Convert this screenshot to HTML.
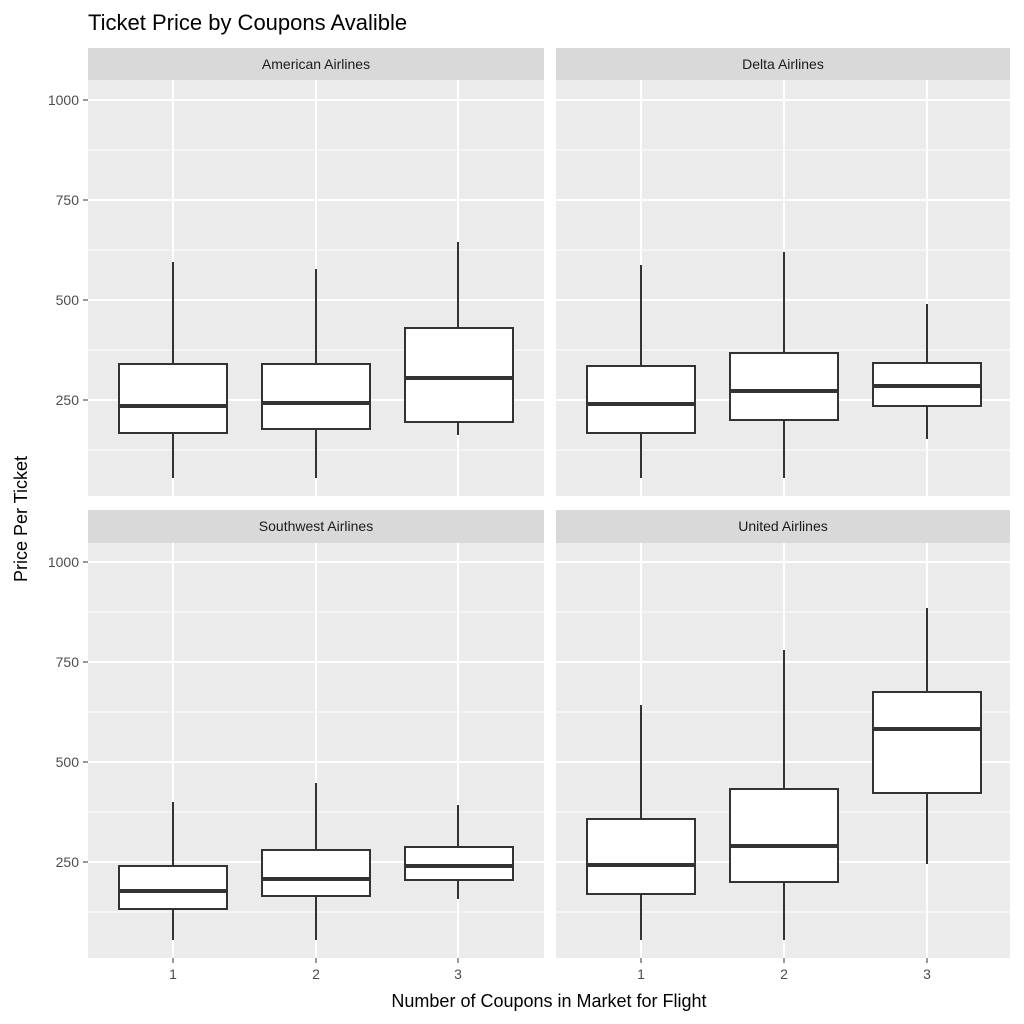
<!DOCTYPE html>
<html><head><meta charset="utf-8"><style>body{margin:0;background:#fff}svg{display:block}</style></head><body>
<svg width="1024" height="1024" xmlns="http://www.w3.org/2000/svg" font-family="Liberation Sans, sans-serif">
<rect width="1024" height="1024" fill="#fff"/>
<text x="88" y="30" font-size="22" fill="#000">Ticket Price by Coupons Avalible</text>
<rect x="88" y="48" width="456" height="32" fill="#d9d9d9"/>
<rect x="556" y="48" width="454" height="32" fill="#d9d9d9"/>
<rect x="88" y="510" width="456" height="33" fill="#d9d9d9"/>
<rect x="556" y="510" width="454" height="33" fill="#d9d9d9"/>
<g font-size="14" fill="#1a1a1a" text-anchor="middle">
<text x="316" y="69">American Airlines</text>
<text x="783" y="69">Delta Airlines</text>
<text x="316" y="531">Southwest Airlines</text>
<text x="783" y="531">United Airlines</text>
</g>
<rect x="88" y="80" width="456" height="416" fill="#ebebeb"/>
<rect x="556" y="80" width="454" height="416" fill="#ebebeb"/>
<rect x="88" y="543" width="456" height="415" fill="#ebebeb"/>
<rect x="556" y="543" width="454" height="415" fill="#ebebeb"/>
<g stroke="#fff" stroke-width="1">
<path d="M88 150H544M88 250H544M88 350H544M88 450H544M556 150H1010M556 250H1010M556 350H1010M556 450H1010"/>
<path d="M88 612H544M88 712H544M88 812H544M88 912H544M556 612H1010M556 712H1010M556 812H1010M556 912H1010"/>
</g>
<g stroke="#fff" stroke-width="2">
<path d="M88 100H544M88 200H544M88 300H544M88 400H544M556 100H1010M556 200H1010M556 300H1010M556 400H1010"/>
<path d="M88 562H544M88 662H544M88 762H544M88 862H544M556 562H1010M556 662H1010M556 762H1010M556 862H1010"/>
<path d="M173 80V496M316 80V496M458 80V496M641 80V496M784 80V496M927 80V496"/>
<path d="M173 543V958M316 543V958M458 543V958M641 543V958M784 543V958M927 543V958"/>
</g>
<g stroke="#333" stroke-width="2" fill="#fff">
<path d="M173 262V478M316 269V478M458 242V435M641 265V478M784 252V478M927 304V439"/>
<path d="M173 802V940M316 783V940M458 805V899M641 705V940M784 650V940M927 608V864"/>
<rect x="119" y="364" width="108" height="69"/>
<rect x="262" y="364" width="108" height="65"/>
<rect x="405" y="328" width="108" height="94"/>
<rect x="587" y="366" width="108" height="67"/>
<rect x="730" y="353" width="108" height="67"/>
<rect x="873" y="363" width="108" height="43"/>
<rect x="119" y="866" width="108" height="43"/>
<rect x="262" y="850" width="108" height="46"/>
<rect x="405" y="847" width="108" height="33"/>
<rect x="587" y="819" width="108" height="75"/>
<rect x="730" y="789" width="108" height="93"/>
<rect x="873" y="692" width="108" height="101"/>
</g>
<g stroke="#333" stroke-width="4">
<path d="M119 406H227M262 403H370M405 378H513M587 404H695M730 391H838M873 386H981"/>
<path d="M119 891H227M262 879H370M405 866H513M587 865H695M730 846H838M873 729H981"/>
</g>
<g stroke="#333" stroke-width="1">
<path d="M83 100H88M83 200H88M83 300H88M83 400H88M83 562H88M83 662H88M83 762H88M83 862H88"/>
<path d="M173 958V963M316 958V963M458 958V963M641 958V963M784 958V963M927 958V963"/>
</g>
<g font-size="14" fill="#4d4d4d" text-anchor="end">
<text x="79" y="105">1000</text><text x="79" y="205">750</text><text x="79" y="305">500</text><text x="79" y="405">250</text>
<text x="79" y="567">1000</text><text x="79" y="667">750</text><text x="79" y="767">500</text><text x="79" y="867">250</text>
</g>
<g font-size="14" fill="#4d4d4d" text-anchor="middle">
<text x="173" y="979">1</text><text x="316" y="979">2</text><text x="458" y="979">3</text>
<text x="641" y="979">1</text><text x="784" y="979">2</text><text x="927" y="979">3</text>
</g>
<text x="549" y="1007" font-size="18" text-anchor="middle" fill="#000">Number of Coupons in Market for Flight</text>
<text transform="translate(27 519) rotate(-90)" font-size="18" text-anchor="middle" fill="#000">Price Per Ticket</text>
</svg>
</body></html>
